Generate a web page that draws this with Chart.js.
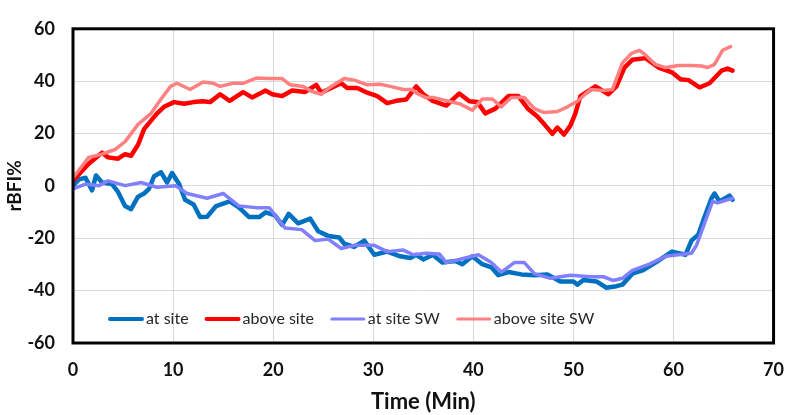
<!DOCTYPE html>
<html><head><meta charset="utf-8">
<script src="https://cdn.jsdelivr.net/npm/chart.js@4"></script>
<style>html,body{margin:0;padding:0;background:#fff}#wrap{width:800px;height:415px}</style>
</head><body><div id="wrap"><canvas id="c" width="800" height="415"></canvas></div>
<script>
const seriesLabels = ['at site', 'above site', 'at site SW', 'above site SW'];
const seriesColors = ['#0070C0', '#FF0000', '#8080FF', '#FF8080'];
const xTicks = [0, 10, 20, 30, 40, 50, 60, 70];
const yTicks = [-60, -40, -20, 0, 20, 40, 60];

// [time (min), rBFI %]
const atSite = [[0,0.1],[0.6,2.5],[1.25,3.1],[1.9,-1.7],[2.3,4],[2.9,1.3],[3.9,0.7],[4.5,-2.3],[5.2,-7.7],[5.8,-8.9],[6.5,-4.1],[7.1,-2.9],[7.6,-1.1],[8.1,3.7],[8.8,5.2],[9.4,1.3],[9.9,4.9],[10.6,0.7],[11.2,-5.3],[12.05,-7.1],[12.7,-11.9],[13.4,-11.8],[14.3,-7.7],[15.65,-5.9],[16.6,-8.3],[17.6,-11.9],[18.6,-11.9],[19.25,-10.1],[20.2,-11.3],[20.9,-14.9],[21.55,-10.7],[22.5,-14.3],[23.7,-12.5],[24.5,-17.3],[25.5,-19.1],[26.6,-19.7],[27.1,-22.1],[28.1,-23.3],[29.1,-20.9],[30.1,-26.3],[31.4,-25.1],[32.7,-26.9],[33.7,-27.5],[34.3,-26.3],[35.0,-28.1],[35.95,-26.3],[36.9,-29.3],[38.2,-28.7],[38.9,-29.9],[39.9,-26.9],[40.9,-29.9],[41.8,-31.1],[42.5,-34.1],[43.5,-32.9],[44.8,-33.8],[46.1,-34.1],[47.4,-33.8],[48.7,-36.5],[50.0,-36.5],[50.4,-37.7],[51.0,-35.9],[52.3,-36.5],[53.3,-38.9],[54.3,-38.3],[54.9,-37.7],[55.9,-33.5],[56.9,-32.3],[58.2,-29.3],[59.85,-25.1],[61.2,-26.3],[61.8,-20.9],[62.5,-18.5],[63.1,-11.9],[63.8,-4.7],[64.1,-2.9],[64.6,-5.9],[65.6,-3.7],[65.9,-5.3]];
const aboveSite = [[0,2],[1.57,8.5],[2.9,12.7],[3.5,10.9],[4.5,10.4],[5.2,12.1],[5.8,11.5],[6.5,15.7],[7.1,21.7],[8.4,27.7],[9.1,30.2],[10.1,32],[11.1,31.4],[12.05,32],[13.0,32.3],[13.7,32],[14.7,35],[15.65,32.5],[17.0,35.8],[17.9,33.8],[19.25,36.4],[19.9,35],[20.9,34.3],[21.9,36.4],[23.2,35.9],[24.3,38.6],[24.8,35.6],[25.8,37.4],[26.8,39.2],[27.4,37.4],[28.4,37.4],[29.4,35.6],[30.4,34.3],[31.4,31.6],[32.3,32.5],[33.3,33],[34.3,38],[35.0,35],[35.95,32.5],[37.3,30.7],[38.6,35.3],[39.6,32.3],[40.4,32],[41.2,27.7],[42.2,29.5],[43.5,34.3],[44.5,34.3],[45.45,29.5],[46.4,26.5],[47.1,23.5],[47.9,19.9],[48.4,22.3],[49.05,19.6],[49.7,23],[50.2,27.7],[50.7,34.3],[52.2,38],[53.5,35],[54.3,38],[55.1,45.2],[55.9,48.2],[57.2,48.8],[58.5,45.2],[59.85,43.4],[60.7,40.7],[61.5,40.4],[62.6,37.6],[63.6,39.2],[64.8,44],[65.4,44.8],[65.9,44]];
const atSiteSW = [[0,-1.1],[1.25,0.7],[2.6,0.1],[3.5,1.9],[5.2,0.1],[6.8,1.3],[8.4,-0.5],[10.25,0.1],[11.4,-2.9],[13.4,-4.7],[15.0,-2.9],[16.6,-7.7],[18.3,-8.3],[19.6,-8.3],[21.2,-16.1],[22.85,-16.7],[24.2,-20.9],[25.5,-20.3],[26.8,-23.9],[28.1,-22.7],[30.1,-22.7],[31.4,-25.1],[33.0,-24.5],[34.0,-26.3],[35.3,-25.7],[36.6,-26],[37.3,-29.3],[38.6,-28.1],[40.5,-26.3],[41.8,-29.3],[42.8,-32.9],[44.1,-29.3],[45.1,-29.3],[46.1,-33.5],[47.7,-35.3],[49.7,-34.1],[51.7,-34.7],[53.0,-34.7],[53.96,-36.1],[54.9,-35.3],[55.9,-32.3],[57.6,-29.9],[59.2,-26.9],[60.5,-26.3],[61.8,-25.7],[62.3,-22.7],[63.1,-14.3],[63.9,-5.9],[64.4,-6.5],[65.4,-5.3],[65.9,-4.7]];
const aboveSiteSW = [[0,3.1],[1.57,10.9],[2.9,12.1],[4.2,13.9],[5.2,16.9],[6.5,23.5],[7.8,27.7],[8.8,33.2],[9.75,38],[10.4,39.2],[11.7,36.8],[13.0,39.7],[14.0,39.2],[14.7,38],[16.0,39.2],[17.0,39.2],[18.3,41.2],[19.6,41],[20.9,41],[21.7,38.6],[23.0,38],[23.85,36.1],[24.8,35],[25.8,38],[27.1,41],[28.1,40.4],[29.4,38.6],[30.7,38.8],[31.7,38],[33.0,36.8],[33.9,36.8],[34.3,35.5],[35.2,33.8],[35.95,33.8],[37.6,32.3],[38.6,31.4],[39.9,28.9],[40.9,33.2],[41.9,33.2],[42.8,30.2],[43.8,33.8],[45.1,33.8],[46.1,29.5],[47.1,28],[48.4,28.4],[49.4,30.2],[50.4,32.3],[51.7,36.8],[53.0,36.4],[53.9,36.8],[54.9,47],[55.8,50.6],[56.6,51.8],[57.2,50],[58.2,46.4],[59.2,45.2],[60.5,46],[61.8,46],[62.8,45.8],[63.4,45.2],[64.1,46.4],[64.9,51.8],[65.7,53.2]];

const seriesData = [atSite, aboveSite, atSiteSW, aboveSiteSW];
const seriesWidths = [4.5, 4.5, 3.5, 3.5];

const datasets = seriesData.map((arr, i) => ({
  label: seriesLabels[i],
  data: arr.map(p => ({x: p[0], y: p[1]})),
  borderColor: seriesColors[i],
  backgroundColor: seriesColors[i],
  borderWidth: seriesWidths[i],
  pointRadius: 0,
  tension: 0,
  fill: false,
  borderCapStyle: 'round',
  borderJoinStyle: 'round',
  order: 4 - i
}));

const frameAndLegend = {
  id: 'frameAndLegend',
  afterDraw(chart) {
    const {ctx, chartArea: a} = chart;
    ctx.save();
    // legend inside plot
    ctx.font = '16px Lato';
    ctx.textBaseline = 'middle';
    ctx.textAlign = 'left';
    let x = 108;
    const y = 319;
    chart.data.datasets.forEach(ds => {
      ctx.strokeStyle = ds.borderColor;
      ctx.lineWidth = ds.borderWidth >= 4 ? 4 : 3;
      ctx.lineCap = 'round';
      ctx.beginPath();
      ctx.moveTo(x + 2, y);
      ctx.lineTo(x + 34, y);
      ctx.stroke();
      ctx.fillStyle = '#262626';
      ctx.fillText(ds.label, x + 38, y);
      x += 38 + ctx.measureText(ds.label).width + 16;
    });
    // frame
    ctx.strokeStyle = '#000';
    ctx.lineWidth = 3;
    ctx.lineCap = 'butt';
    ctx.strokeRect(a.left, a.top, a.right - a.left, a.bottom - a.top);
    ctx.restore();
  }
};

const tickFont = {family: 'Lato', weight: 'bold', size: 18};

new Chart(document.getElementById('c'), {
  type: 'line',
  data: {datasets},
  options: {
    responsive: false,
    devicePixelRatio: 1,
    animation: false,
    layout: {padding: {top: 10, right: 13, left: 0, bottom: 0}},
    plugins: {legend: {display: false}, tooltip: {enabled: false}},
    scales: {
      x: {
        type: 'linear', min: 0, max: 70,
        afterBuildTicks: s => { s.ticks = xTicks.map(v => ({value: v})); },
        ticks: {font: tickFont, color: '#111', padding: 16, maxRotation: 0},
        grid: {color: '#d9d9d9', lineWidth: 1, drawTicks: false},
        border: {display: false},
        title: {display: true, text: 'Time (Min)', font: {family: 'Lato', weight: 'bold', size: 22}, color: '#111', padding: 0},
        afterFit: s => { s.height = 72; }
      },
      y: {
        type: 'linear', min: -60, max: 60,
        afterBuildTicks: s => { s.ticks = yTicks.map(v => ({value: v})); },
        ticks: {font: tickFont, color: '#111', padding: 18},
        grid: {color: '#d9d9d9', lineWidth: 1, drawTicks: false},
        border: {display: false},
        title: {display: true, text: 'rBFI%', font: {family: 'Lato', weight: 'bold', size: 19}, color: '#111', padding: {top: 3, bottom: 0}},
        afterFit: s => { s.width = 73; }
      }
    }
  },
  plugins: [frameAndLegend]
});
</script></body></html>
